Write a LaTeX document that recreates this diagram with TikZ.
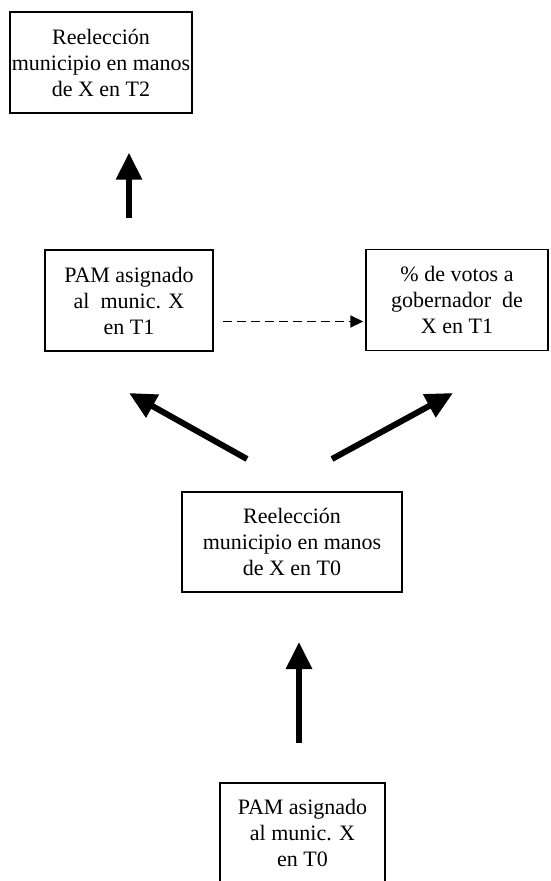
\documentclass[tikz,border=0pt]{standalone}
\usepackage{fontspec}
\setmainfont{Liberation Serif}
\usetikzlibrary{arrows.meta}

\begin{document}
\begin{tikzpicture}[ x = 1pt, y = -1pt
                     , align = center
                     , font = \fontsize{22}{26}\selectfont
                     , box/.style = { rectangle
                                    , draw = black
                                    , line width = 1.4pt
                                    , inner sep = 0pt
                                    , minimum height = 101pt }
                     , bigarrow/.style = { line width = 6pt
                                         , -{Triangle[width=25pt, length=27pt]} }
                     , dasharrow/.style = { line width = 1.8pt
                                          , dash pattern = on 9pt off 5pt
                                          , -{Triangle[width=12pt, length=13pt]} }
                     ]

  \useasboundingbox (0,0) rectangle (550,881);
  \clip (0,0) rectangle (550,881);

  \node (reel2) [box, minimum width = 182pt] at (101,62.5)
    {\fontsize{22}{31}\selectfont Reelección\\ municipio en manos\\ de X en T2};
  \node (pam1) [box, minimum width = 168pt] at (129,300.5)
    {PAM asignado\\ al\ \ munic. X\\ en T1};
  \node (votos) [box, minimum width = 182pt] at (457,300)
    {\% de votos a\\ gobernador\ \ de\\ X en T1};
  \node (reel0) [box, minimum width = 220pt, minimum height = 100pt] at (292,542)
    {\fontsize{22}{25}\selectfont Reelección\\ municipio en manos\\ de X en T0};
  \node (pam0) [box, minimum width = 165pt, minimum height = 100pt] at (302.5,833)
    {PAM asignado\\ al munic. X\\ en T0};

  % free ends of the thick arrows
  \coordinate (l0) at (247,459);
  \coordinate (l1) at (129,393);
  \coordinate (r0) at (332,459);
  \coordinate (r1) at (453,393);
  \coordinate (b0) at (299,743);
  \coordinate (b1) at (299,642);

  \draw[bigarrow, shorten <= 31pt, shorten >= 39pt]
    (pam1.north) -- (pam1.north |- reel2.south);

  \draw[dasharrow, shorten <= 9pt, shorten >= 2pt]
    ([yshift=-21pt]pam1.east) -- ([yshift=-21pt]pam1.east -| votos.west);

  \draw[bigarrow] (l0) -- (l1);
  \draw[bigarrow] (r0) -- (r1);
  \draw[bigarrow] (b0) -- (b1);

\end{tikzpicture}
\end{document}
